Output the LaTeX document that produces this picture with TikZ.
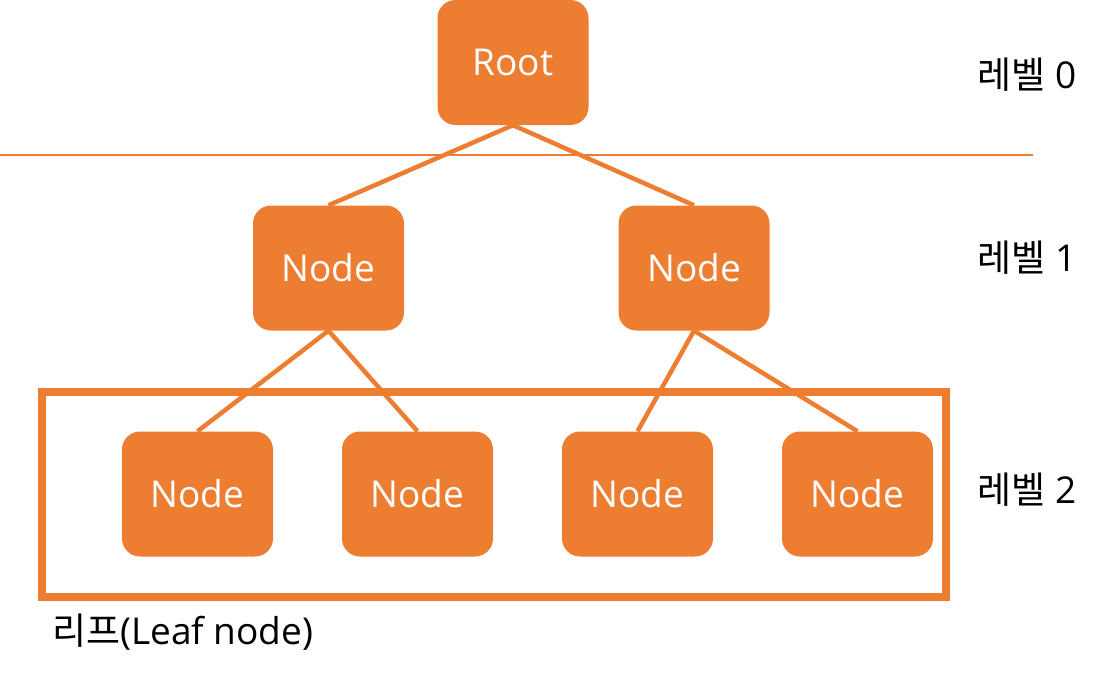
\documentclass[tikz,border=0pt]{standalone}
\usepackage{fontspec}
\setmainfont{Open Sans}
\newfontfamily\kr{Noto Sans CJK KR}
\usepackage{tikz}
\usetikzlibrary{positioning}
\definecolor{tree}{HTML}{ED7D31}

\begin{document}
\begin{tikzpicture}[
  x=1pt, y=-1pt,
  tnode/.style={rectangle, rounded corners=18pt, fill=tree, inner sep=0pt,
                minimum width=151pt, minimum height=125pt,
                text=white, font=\fontsize{37}{42}\selectfont},
  edge/.style={draw=tree, line width=4.5pt},
  lvl/.style={font=\fontsize{37}{42}\selectfont, text=black}
]
\useasboundingbox (0,0) rectangle (1103,673);

% level split line and leaf frame
\draw[tree, line width=2.5pt] (0,155) -- (1033,155);
\draw[tree, line width=8pt] (41.5,391.5) rectangle (946,597);

\node[tnode] (root) at (513,62.5) {Root};
\node[tnode] (n1) at (328.5,268) {Node};
\node[tnode] (n2) at (694,268)   {Node};
\node[tnode] (l1) at (197.5,494) {Node};
\node[tnode] (l2) at (417.5,494) {Node};
\node[tnode] (l3) at (637.5,494) {Node};
\node[tnode] (l4) at (857.5,494) {Node};

\foreach \a/\b in {root/n1, root/n2, n1/l1, n1/l2, n2/l3, n2/l4}
  \draw[edge] (\a.south) -- (\b.north);

\node[lvl] (lv0) at (1027,75)  {{\kr 레벨} 0};
\node[lvl] (lv1) at (1027,258) {{\kr 레벨} 1};
\node[lvl] (lv2) at (1027,490) {{\kr 레벨} 2};
\node[lvl, anchor=west, inner sep=0pt] (leaf) at (52,632) {{\kr 리프}(Leaf node)};

\end{tikzpicture}
\end{document}
